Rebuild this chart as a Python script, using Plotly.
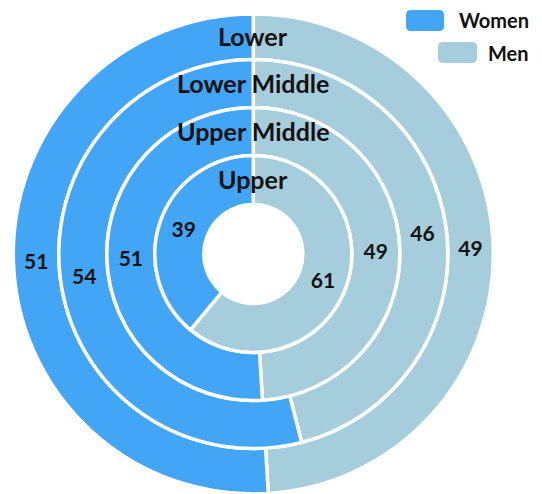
import plotly.graph_objects as go

# Income tiers, from the outermost ring to the innermost
tiers = ["Lower", "Lower Middle", "Upper Middle", "Upper"]
genders = ["Men", "Women"]
men = [49, 46, 49, 61]
women = [51, 54, 51, 39]

palette = {"Women": "#42A5F5", "Men": "#A6CDDB"}
legend_order = ["Women", "Men"]

W, H = 542, 494
CX, CY = 253.3, 254.0          # ring centre, pixels from the top-left corner
EDGES = [240.0, 194.5, 146.5, 98.5, 49.5]   # ring boundaries (outer -> hole), px
GAP = 3.5                       # white separator width
FONT = "Lato"
INK = "#111111"

fig = go.Figure()

for i, tier in enumerate(tiers):
    r_out, r_in = EDGES[i], EDGES[i + 1]
    fig.add_trace(go.Pie(
        name=tier,
        labels=genders,
        values=[men[i], women[i]],
        sort=False,
        direction="clockwise",
        rotation=0,
        hole=r_in / r_out,
        domain=dict(
            x=[(CX - r_out) / W, (CX + r_out) / W],
            y=[max(0.0, (H - CY - r_out) / H), (H - CY + r_out) / H],
        ),
        marker=dict(colors=[palette[g] for g in genders],
                    line=dict(color="white", width=GAP)),
        texttemplate="<b>%{value}</b>",
        textposition="inside",
        insidetextorientation="horizontal",
        textfont=dict(family=FONT, size=21, color=INK),
        hovertemplate="%{label}: %{value}<extra>" + tier + "</extra>",
        showlegend=False,
    ))

    # tier name written across the top of its ring
    y_px = CY - (r_out + r_in) / 2
    fig.add_annotation(
        x=CX / W, y=1 - (y_px - 1) / H, xref="paper", yref="paper",
        text=f"<b>{tier}</b>", showarrow=False, xanchor="center", yanchor="middle",
        font=dict(family=FONT, size=25, color=INK),
    )

# legend: rounded swatches with right-aligned labels in the top-right corner
swatches = {"Women": (406, 444, 10, 31), "Men": (438, 477, 42, 63)}
TEXT_RIGHT = 531


def rounded_rect(x0, x1, y0, y1, r=5):
    def px(x):
        return x / W

    def py(y):
        return 1 - y / H

    return (f"M {px(x0 + r)},{py(y0)} L {px(x1 - r)},{py(y0)} "
            f"Q {px(x1)},{py(y0)} {px(x1)},{py(y0 + r)} "
            f"L {px(x1)},{py(y1 - r)} Q {px(x1)},{py(y1)} {px(x1 - r)},{py(y1)} "
            f"L {px(x0 + r)},{py(y1)} Q {px(x0)},{py(y1)} {px(x0)},{py(y1 - r)} "
            f"L {px(x0)},{py(y0 + r)} Q {px(x0)},{py(y0)} {px(x0 + r)},{py(y0)} Z")


for g in legend_order:
    x0, x1, y0, y1 = swatches[g]
    fig.add_shape(type="path", path=rounded_rect(x0, x1, y0, y1),
                  xref="paper", yref="paper",
                  fillcolor=palette[g], line=dict(width=0))
    fig.add_annotation(
        x=TEXT_RIGHT / W, y=1 - ((y0 + y1) / 2) / H, xref="paper", yref="paper",
        text=f"<b>{g}</b>", showarrow=False, xanchor="right", yanchor="middle",
        font=dict(family=FONT, size=20, color=INK),
    )

fig.update_layout(
    width=W, height=H,
    margin=dict(l=0, r=0, t=0, b=0),
    paper_bgcolor="white", plot_bgcolor="white",
    showlegend=False,
)

fig.write_html("out.html")
